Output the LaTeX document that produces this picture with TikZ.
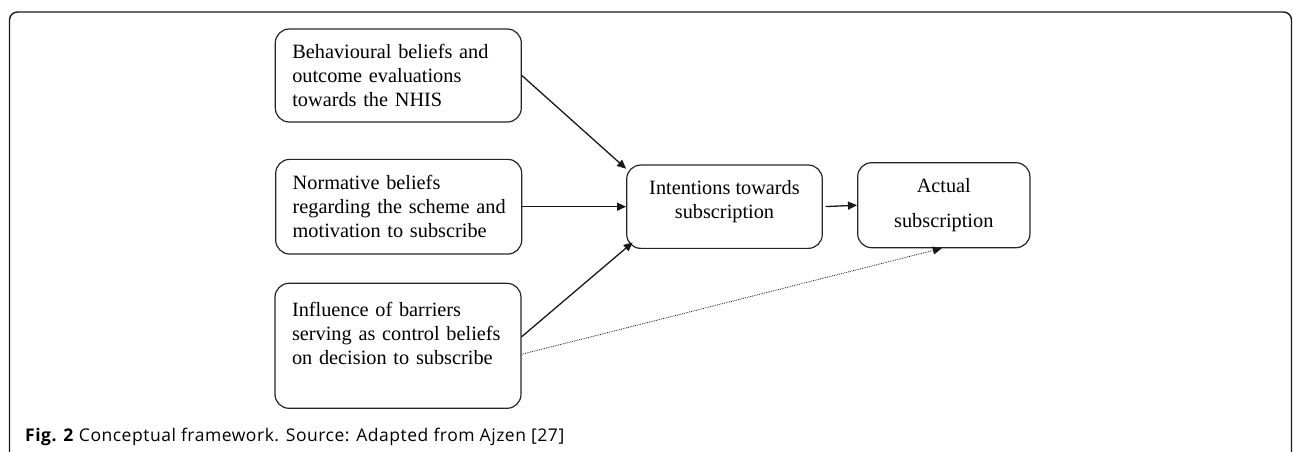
\documentclass[tikz,border=0pt]{standalone}
\usepackage{fontspec}
\setmainfont{Liberation Serif}
\newfontfamily\capfont[LetterSpace=3]{Open Sans}
\usetikzlibrary{arrows.meta,calc}
\begin{document}
\begin{tikzpicture}[x=1pt,y=-1pt,
  box/.style={draw=black!85,line width=1.2pt,rounded corners=14pt,inner sep=0pt,font=\fontsize{20.3}{24}\selectfont},
  leftbox/.style={box,align=left,text width=212pt,minimum width=246pt},
  midbox/.style={box,align=center},
  arr/.style={draw=black!90,line width=1.3pt,-{Triangle[length=9pt,width=8pt]}},
  dotarr/.style={draw=black!90,line width=0.8pt,densely dotted,-{Triangle[length=9pt,width=8pt]}},
  frame/.style={draw=black!90,line width=1.4pt,rounded corners=8pt}]
\useasboundingbox (0,0) rectangle (1293,451);
\clip (0,0) rectangle (1293,451);
\draw[frame] (9.5,12) rectangle (1291.5,490);

\node[leftbox,minimum height=93pt] (b1) at (398.3,75.5)
  {\mbox{Behavioural beliefs and}\\\mbox{outcome evaluations}\\\mbox{towards the NHIS}};
\node[leftbox,minimum height=94.7pt] (b2) at (398.7,206.7)
  {\mbox{Normative beliefs}\\\mbox{regarding the scheme and}\\\mbox{motivation to subscribe}};
\node[leftbox,minimum height=125pt] (b3) at (398,345.8)
  {\mbox{Influence of barriers}\\\mbox{serving as control beliefs}\\\mbox{on decision to subscribe}\\\mbox{}};
\node[midbox,minimum width=195.6pt,minimum height=83.3pt] (int) at (724.5,206.7)
  {Intentions towards\\subscription\\[-9pt]\mbox{}};
\node[midbox,minimum width=172.3pt,minimum height=85pt] (act) at (943.8,205.2)
  {Actual\\[11.6pt]subscription};

\draw[arr] (b1.east) -- ($(int.north west)+(0,4.3)$);
\draw[arr] (b2.east) -- (int.west);
\draw[arr] ($(b3.east)+(0,-9)$) -- ($(int.south west)+(6.6,-6.6)$);
\draw[arr,shorten <=2.7pt] (int.east) -- (act.west);
\draw[dotarr] ($(b3.east)+(0,8.5)$) -- ($(act.south)+(-2,0)$);

\node[anchor=base west,inner sep=0pt,font=\capfont\fontsize{17.5}{20}\selectfont] (cap) at (25,441)
  {\textbf{Fig. 2} Conceptual framework. Source: Adapted from Ajzen [27]};
\end{tikzpicture}
\end{document}
